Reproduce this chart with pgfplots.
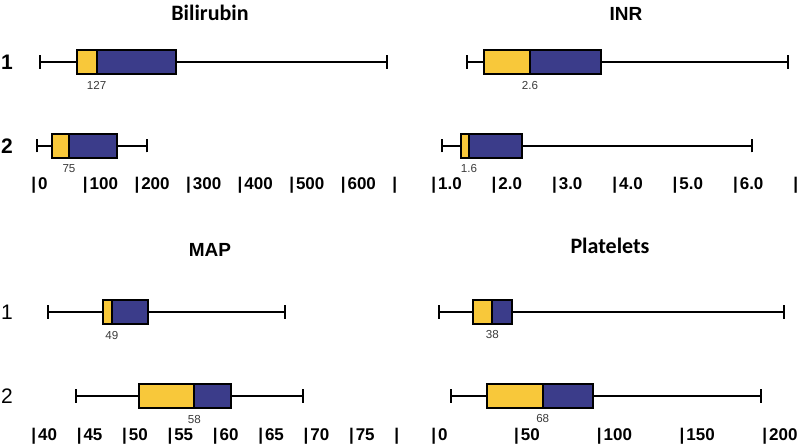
\documentclass[border=0pt]{standalone}
\usepackage{fontspec}
\setmainfont{Liberation Sans}
\newfontfamily\calibri{Carlito}
\usepackage{pgfplots}
\pgfplotsset{compat=1.18}
\usepgfplotslibrary{statistics}
\definecolor{boxyellow}{HTML}{F8C83A}
\definecolor{boxblue}{HTML}{3B3C8A}
\definecolor{medgray}{HTML}{3A3A3A}
\newcommand\ticksfont{\fontsize{8.5}{10}\selectfont\bfseries}
\newcommand\medfont{\fontsize{5.8}{6}\selectfont\color{medgray}}
\pgfplotsset{
  panel/.style={
    scale only axis, width=185pt, height=64pt,
    ymin=0.738, ymax=2.262,
    axis line style={draw=none}, tick style={draw=none},
    clip=false,
    xticklabel style={anchor=base west, inner sep=0pt, yshift=-11pt, font=\ticksfont},
    ytick={1,2}, yticklabels={2,1},
    title style={at={(0.5,1)}, anchor=base, yshift=3.5pt},
    ymajorticks=false,
  },
  leftpanel/.style={ymajorticks=true,
    yticklabel style={anchor=center, inner sep=0pt, xshift=-9pt}},
  bx/.style={fill=boxblue, draw=black, line width=1pt, solid, line join=miter},
  yb/.style={fill=boxyellow, draw=black, line width=1pt, line join=miter},
}
\newcommand\bxp[6]{% draw position, lw, q1, med, q3, uw
  \addplot[bx, boxplot prepared={draw position=#1, lower whisker=#2, lower quartile=#3,
    median=#4, upper quartile=#5, upper whisker=#6, box extend=0.286, whisker extend=0.155}] coordinates {};
  \addplot[yb] coordinates {(#3,#1-0.143) (#4,#1-0.143) (#4,#1+0.143) (#3,#1+0.143)} -- cycle;
}
\begin{document}
\begin{tikzpicture}
\useasboundingbox (0,0) rectangle (400pt,-224pt);
% Bilirubin
\begin{axis}[panel, leftpanel, at={(12.5pt,-20pt)}, anchor=north west,
  xmin=-11.6, xmax=705.8,
  yticklabel style={font=\fontsize{10.5}{12}\selectfont\bfseries},
  title={\calibri\bfseries\fontsize{11}{12}\selectfont Bilirubin},
  xtick={0,100,200,300,400,500,600,700},
  xticklabels={{|\kern1pt0},{|\kern1pt100},{|\kern1pt200},{|\kern1pt300},{|\kern1pt400},{|\kern1pt500},{|\kern1pt600},{|}}]
\bxp{2}{17.5}{89.2}{127.3}{281}{689.7}
\bxp{1}{12.3}{41.4}{73.7}{167.4}{224.3}
\node[font=\medfont, anchor=base] at (axis cs:127.3,2) [yshift=-14pt] {127};
\node[font=\medfont, anchor=base] at (axis cs:73.7,1) [yshift=-13.5pt] {75};
\end{axis}
% INR
\begin{axis}[panel, at={(212.5pt,-20pt)}, anchor=north west,
  xmin=0.9005, xmax=7.033,
  title={\bfseries\fontsize{9.5}{11}\selectfont INR},
  title style={xshift=8pt},
  xtick={1,2,3,4,5,6,7},
  xticklabels={{|\kern1pt1.0},{|\kern1pt2.0},{|\kern1pt3.0},{|\kern1pt4.0},{|\kern1pt5.0},{|\kern1pt6.0},{|}}]
\bxp{2}{1.59}{1.88}{2.64}{3.81}{6.91}
\bxp{1}{1.19}{1.49}{1.63}{2.51}{6.32}
\node[font=\medfont, anchor=base] at (axis cs:2.64,2) [yshift=-14pt] {2.6};
\node[font=\medfont, anchor=base] at (axis cs:1.63,1) [yshift=-13.5pt] {1.6};
\end{axis}
% MAP
\begin{axis}[panel, leftpanel, at={(12.5pt,-145pt)}, anchor=north west,
  xmin=39.34, xmax=80.11,
  yticklabel style={font=\fontsize{10.5}{12}\selectfont},
  title={\bfseries\fontsize{9.5}{11}\selectfont MAP},
  title style={yshift=7pt},
  xticklabel style={yshift=-0.5pt},
  xtick={40,45,50,55,60,65,70,75,80},
  xticklabels={{|\kern1pt40},{|\kern1pt45},{|\kern1pt50},{|\kern1pt55},{|\kern1pt60},{|\kern1pt65},{|\kern1pt70},{|\kern1pt75},{|}}]
\bxp{2}{41.9}{47.9}{48.9}{52.9}{68.0}
\bxp{1}{45.0}{51.9}{58.0}{62.0}{70.0}
\node[font=\medfont, anchor=base] at (axis cs:48.9,2) [yshift=-13.5pt] {49};
\node[font=\medfont, anchor=base] at (axis cs:58.0,1) [yshift=-14pt] {58};
\end{axis}
% Platelets
\begin{axis}[panel, at={(212.5pt,-145pt)}, anchor=north west,
  xmin=-3.63, xmax=219.9,
  title={\calibri\bfseries\fontsize{11}{12}\selectfont Platelets},
  title style={yshift=8.5pt},
  xticklabel style={yshift=-0.5pt},
  xtick={0,50,100,150,200},
  xticklabels={{|\kern1pt0},{|\kern1pt50},{|\kern1pt100},{|\kern1pt150},{|\kern1pt200}}]
\bxp{2}{4.8}{25.6}{37.1}{48.7}{213.5}
\bxp{1}{11.9}{33.6}{67.5}{98.1}{199.4}
\node[font=\medfont, anchor=base] at (axis cs:37.1,2) [yshift=-13pt] {38};
\node[font=\medfont, anchor=base] at (axis cs:67.5,1) [yshift=-13.5pt] {68};
\end{axis}
\end{tikzpicture}
\end{document}
